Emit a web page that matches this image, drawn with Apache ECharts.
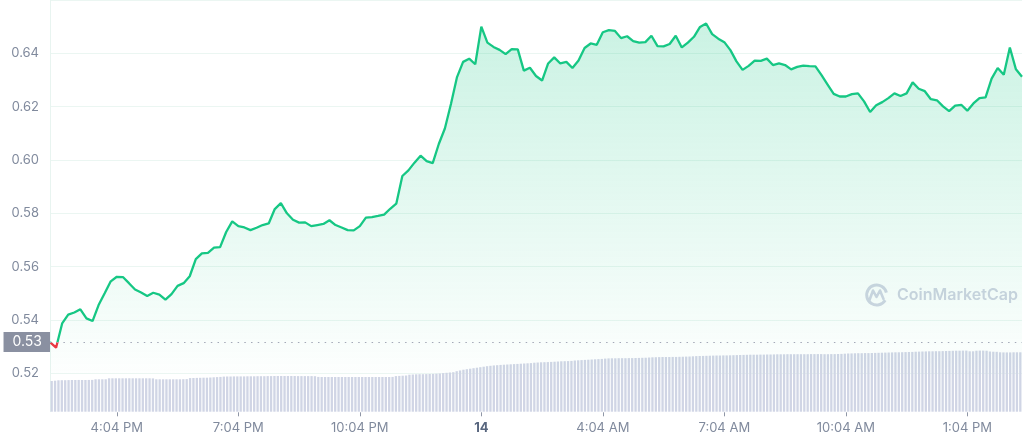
<!DOCTYPE html>
<html><head><meta charset="utf-8">
<script src="https://cdn.jsdelivr.net/npm/echarts@6/dist/echarts.min.js"></script>
<style>html,body{margin:0;padding:0;background:#fff}#c{width:1024px;height:441px}</style>
</head><body><div id="c"></div>
<script>
// price samples, equally spaced over 24h (9-minute steps)
const prices = [
0.5317,0.5296,0.5387,0.5420,0.5428,0.5440,0.5406,0.5396,0.5456,0.5500,
0.5545,0.5562,0.5561,0.5538,0.5514,0.5503,0.5490,0.5502,0.5495,0.5476,
0.5497,0.5528,0.5538,0.5564,0.5628,0.5650,0.5652,0.5671,0.5673,0.5730,
0.5770,0.5752,0.5747,0.5737,0.5746,0.5756,0.5762,0.5816,0.5838,0.5800,
0.5776,0.5765,0.5766,0.5752,0.5756,0.5760,0.5774,0.5756,0.5747,0.5737,
0.5736,0.5752,0.5784,0.5786,0.5790,0.5795,0.5817,0.5836,0.5940,0.5961,
0.5990,0.6016,0.5996,0.5988,0.6060,0.6118,0.6210,0.6311,0.6368,0.6380,
0.6359,0.6500,0.6440,0.6424,0.6413,0.6397,0.6416,0.6415,0.6335,0.6346,
0.6315,0.6298,0.6362,0.6385,0.6362,0.6368,0.6345,0.6373,0.6420,0.6437,
0.6432,0.6479,0.6487,0.6484,0.6457,0.6464,0.6446,0.6440,0.6442,0.6466,
0.6427,0.6426,0.6435,0.6466,0.6422,0.6440,0.6462,0.6499,0.6512,0.6472,
0.6455,0.6442,0.6412,0.6370,0.6338,0.6353,0.6373,0.6372,0.6380,0.6356,
0.6362,0.6356,0.6340,0.6349,0.6354,0.6352,0.6351,0.6318,0.6283,0.6248,
0.6238,0.6238,0.6247,0.6250,0.6220,0.6180,0.6205,0.6217,0.6232,0.6250,
0.6240,0.6250,0.6291,0.6267,0.6258,0.6228,0.6224,0.6201,0.6183,0.6204,
0.6207,0.6185,0.6212,0.6232,0.6235,0.6305,0.6345,0.6320,0.6422,0.6340,
0.6312
];
// 24h volume (millions), 5-minute bars
const volumes = [
614,620,628,630,630,632,634,634,635,634,634,635,636,648,648,648,648,
668,668,668,668,668,668,669,668,668,668,668,668,668,666,
648,648,648,648,648,648,648,648,650,652,
672,674,676,678,680,680,684,688,692,696,
702,704,704,706,706,706,706,708,708,708,710,710,710,712,712,
714,714,714,714,714,714,714,712,712,712,712,712,710,
696,694,694,694,694,694,694,694,694,694,694,694,694,694,694,694,694,694,694,694,694,694,696,
712,716,720,724,
740,744,748,750,750,752,754,756,760,764,
772,778,784,790,
810,825,840,850,860,
870,880,890,900,
910,918,925,930,936,940,944,
948,952,956,960,964,968,972,
980,984,988,990,992,996,
1000,1004,1008,1010,1012,1016,
1024,1028,1032,1036,1040,1044,1048,1052,1056,1062,
1066,1068,1068,1070,1070,1070,1072,1072,1074,1076,1078,1080,
1084,1088,1090,1092,1094,1094,1094,1096,1096,1098,1100,1102,1104,1108,
1112,1114,1116,1118,1120,1122,1124,1124,1126,1126,1128,1130,1132,1134,
1136,1138,1140,1140,1140,1142,1142,1144,1144,1146,
1148,1148,1148,1150,1150,1150,1150,1150,1150,1150,1152,1152,1152,1152,1150,1150,1152,1152,1154,1156,
1160,1164,1166,1168,1170,1170,1172,1172,1174,1176,1178,
1180,1182,1184,1186,1188,1188,1190,1192,1194,1196,
1200,1202,1204,1206,1208,1208,1210,1210,1212,1214,
1216,1218,1220,1220,1222,1222,
1208,1208,
1220,1222,1222,1220,
1204,1200,1198,
1188,1186,1186,1186,1188,1188,1188
];
const openPrice = 0.5317;
const openLabel = '0.53';
const tickIndex = [11,31,51,71,91,111,131,151];
const tickLabels = ['4:04 PM','7:04 PM','10:04 PM','14','4:04 AM','7:04 AM','10:04 AM','1:04 PM'];

const cats = prices.map((_, i) => i);
const volCats = volumes.map((_, i) => i);
const labelAt = {};
tickIndex.forEach((k, j) => { labelAt[k] = tickLabels[j]; });

const GREEN = '#16c784', RED = '#ea3943', GREY = '#808a9d';
const chart = echarts.init(document.getElementById('c'));
chart.setOption({
  animation: false,
  textStyle: { fontFamily: 'Inter' },
  grid: [
    { left: 50, right: 2, top: -2, bottom: 67.7 },
    { left: 50, right: 2, bottom: 29.3, height: 100 }
  ],
  xAxis: [
    { gridIndex: 0, type: 'category', data: cats, boundaryGap: false, offset: 39,
      axisLine: { show: false },
      axisTick: { show: true, interval: (i) => (i in labelAt), length: 4, lineStyle: { color: '#8f96a6' } },
      axisLabel: { interval: (i) => (i in labelAt), margin: 9, fontSize: 13, color: GREY,
        formatter: (v) => labelAt[v] === '14' ? '{b|14}' : (labelAt[v] || ''),
        rich: { b: { fontWeight: 'bold', color: '#58667e', fontSize: 13 } } },
      splitLine: { show: false } },
    { gridIndex: 1, type: 'category', data: volCats, show: false }
  ],
  yAxis: [
    { gridIndex: 0, type: 'value', min: 0.52, max: 0.66, interval: 0.02,
      axisLine: { show: true, lineStyle: { color: '#e8f4f0' } }, axisTick: { show: false },
      axisLabel: { showMaxLabel: false, formatter: (v) => v.toFixed(2), color: GREY, fontSize: 13, margin: 11 },
      splitLine: { lineStyle: { color: '#ebf6f2' } } },
    { gridIndex: 1, type: 'value', min: 0, max: 2000,
      axisLine: { show: true, lineStyle: { color: '#e8f4f0' } }, axisTick: { show: false },
      axisLabel: { show: false }, splitLine: { show: false } }
  ],
  visualMap: { show: false, type: 'piecewise', seriesIndex: 0, dimension: 1,
    pieces: [{ gt: 0.40, lte: openPrice, color: RED }, { gt: openPrice, lte: 0.80, color: GREEN }],
    outOfRange: { color: GREEN } },
  series: [
    { type: 'line', xAxisIndex: 0, yAxisIndex: 0, data: prices, symbol: 'none',
      lineStyle: { width: 2.3 },
      areaStyle: { color: new echarts.graphic.LinearGradient(0, 0, 0, 1, [
        { offset: 0, color: 'rgba(22,199,132,0.32)' },
        { offset: 1, color: 'rgba(22,199,132,0.01)' }]) },
      markLine: { silent: true, symbol: ['none', 'none'], precision: 4,
        lineStyle: { color: '#a3a8b7', type: [1.5, 5.2], width: 1 },
        label: { position: 'start', distance: 0, formatter: openLabel, color: '#fff', fontSize: 14,
          backgroundColor: '#8a90a1', padding: [3, 8, 2, 9], lineHeight: 15 },
        data: [{ yAxis: openPrice }] },
      z: 3 },
    { type: 'bar', xAxisIndex: 1, yAxisIndex: 1, data: volumes, barWidth: '68%',
      itemStyle: { color: '#d0d5e5' }, z: 2 }
  ],
  graphic: [
    { type: 'arc', shape: { cx: 876.7, cy: 295, r: 10, startAngle: 0.55, endAngle: 0.55 + Math.PI * 2 - 0.8 },
      style: { stroke: '#d1d5e3', lineWidth: 3, fill: null } },
    { type: 'polyline', shape: { points: [[869.5, 300], [873, 290.5], [876.5, 297], [880, 290.5], [883.5, 299]] },
      style: { stroke: '#d1d5e3', lineWidth: 2.6, fill: null, lineJoin: 'round', lineCap: 'round' } },
    { type: 'text', style: { x: 897, y: 295.5, text: 'CoinMarketCap', fill: '#cfd3e1',
      font: '600 16px Inter', align: 'left', verticalAlign: 'middle' } }
  ]
});
</script></body></html>
